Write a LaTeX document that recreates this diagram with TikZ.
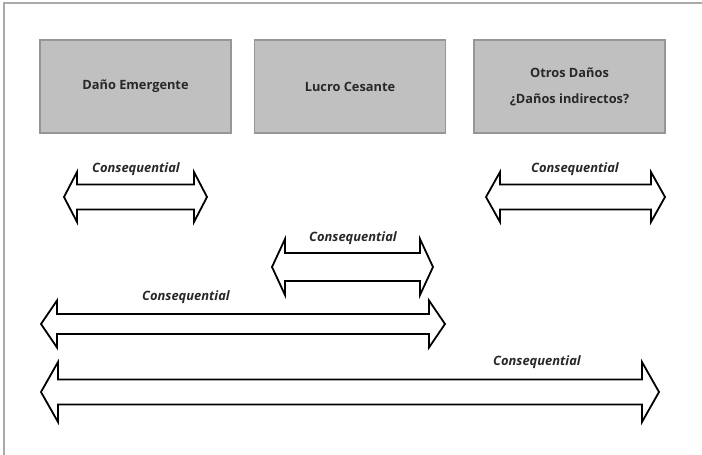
\documentclass[tikz,border=0pt]{standalone}
\usepackage{fontspec}
\setmainfont{Open Sans}
\definecolor{boxfill}{RGB}{192,192,192}
\definecolor{boxline}{RGB}{150,150,150}
\definecolor{frameline}{RGB}{170,170,170}
\definecolor{textgray}{RGB}{40,40,40}
\begin{document}
\begin{tikzpicture}[x=1pt,y=-1pt,
  damage/.style={draw=boxline,line width=1.2pt,fill=boxfill,minimum width=191pt,minimum height=93pt,
    inner sep=0pt,align=center,text=textgray,font=\fontsize{12.8}{15}\selectfont\bfseries},
  conslabel/.style={fill=white,inner sep=1pt,text=textgray,font=\fontsize{12.9}{15}\selectfont\bfseries\itshape},
  bigarrow/.style={draw=black,line width=1.8pt,fill=white,line join=miter}]

\useasboundingbox (0,0) rectangle (702,455);

% The frame
\draw[frameline,line width=1.5pt] (4,455) -- (4,3) -- (702,3);

% The boxes
\node[damage] (emergente) at (135.5,86.5) {Daño Emergente};
\node[damage] (lucro) at (350,86.5) {Lucro Cesante};
\node[damage] (otros) at (569.5,86.5) {Otros Daños\\[11pt]¿Daños indirectos?};

% The double arrows
\foreach \xl/\xr/\ym/\s/\h/\hl/\lx/\ly [count=\i] in
  {64/207/197/12.5/25/13/136/169,
   486/665/197/12.5/25/14/575/169,
   272/433/267/14/28/13/353/238,
   41/445/324/10/23.5/16/186/297,
   41/659/392/12.5/30/17/537/362}
{
	\draw[bigarrow] (\xl,\ym) -- (\xl+\hl,\ym-\h) -- (\xl+\hl,\ym-\s) -- (\xr-\hl,\ym-\s)
	  -- (\xr-\hl,\ym-\h) -- (\xr,\ym) -- (\xr-\hl,\ym+\h) -- (\xr-\hl,\ym+\s)
	  -- (\xl+\hl,\ym+\s) -- (\xl+\hl,\ym+\h) -- cycle;
	\node[conslabel] (cons\i) at (\lx,\ly) {Consequential};
}

\end{tikzpicture}
\end{document}
